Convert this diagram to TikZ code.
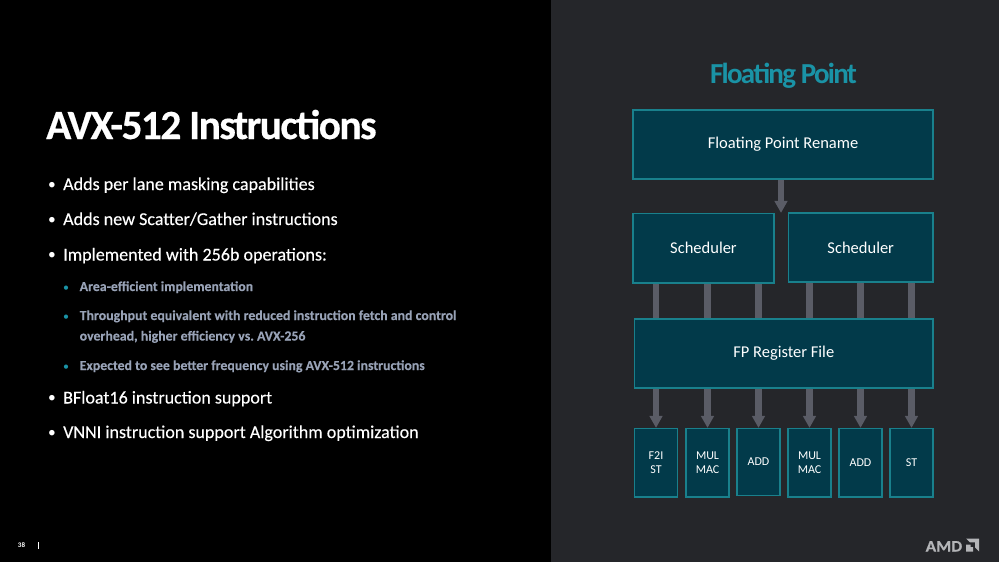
\documentclass[tikz,border=0pt]{standalone}
\usepackage{fontspec}
\setmainfont{Carlito}
\usetikzlibrary{arrows.meta}
\definecolor{panel}{HTML}{25262A}
\definecolor{boxfill}{HTML}{023A4A}
\definecolor{boxline}{HTML}{19808C}
\definecolor{barcol}{HTML}{5A5C66}
\definecolor{titleteal}{HTML}{1A93A6}
\definecolor{subtext}{HTML}{98A2B6}
\definecolor{logo}{HTML}{B4B5B8}
\frenchspacing
\tikzset{
  unitbox/.style={draw=boxline,fill=boxfill,line width=1.2pt,text=white,inner sep=0pt,align=center},
  bar/.style={draw=barcol,line width=6.5pt},
  arrowbar/.style={bar,-{Triangle[width=12.5pt,length=12pt]},shorten >=0pt},
  bigbullet/.style={anchor=base west,text=white,font=\fontsize{18.05}{18.05}\selectfont\addfontfeature{FakeBold=0.25},inner sep=0pt},
  subbullet/.style={anchor=base west,text=subtext,font=\fontsize{13.85}{13.85}\selectfont\bfseries\addfontfeature{FakeBold=0.2},inner sep=0pt},
  bigdot/.style={anchor=base,text=white,font=\fontsize{15.5}{15.5}\selectfont,inner sep=0pt},
  subdot/.style={anchor=base,text=titleteal,font=\fontsize{12}{12}\selectfont,inner sep=0pt},
}
\newcommand{\boxat}[7]{\node[unitbox,minimum width=#3-#2,minimum height=#5-#4,font=\fontsize{#7}{#7}\selectfont] (#1) at ({(#2+#3)/2},{(#4+#5)/2}) {#6};}
\begin{document}
\begin{tikzpicture}[x=1pt,y=-1pt]
\useasboundingbox (0,0) rectangle (999,562);
\fill[black] (0,0) rectangle (551,562);
\fill[panel] (551,0) rectangle (999,562);
% left text
\node[anchor=base west,text=white,font=\fontsize{41.5}{41.5}\selectfont\bfseries,inner sep=0pt] (title) at (46,139) {\addfontfeature{LetterSpace=-3.9,FakeBold=0.4}AVX-512 Instructions};
\node[bigdot] (d1) at (52,189) {•};
\node[bigbullet] (b1) at (63,190) {Adds per lane masking capabilities};
\node[bigdot] (d2) at (52,224) {•};
\node[bigbullet] (b2) at (63,225) {Adds new Scatter/Gather instructions};
\node[bigdot] (d3) at (52,259.5) {•};
\node[bigbullet] (b3) at (63,260.5) {Implemented with 256b operations:};
\node[subdot] (s1d) at (66,291) {•};
\node[subbullet] (s1) at (79.5,291) {Area-efficient implementation};
\node[subdot] (s2d) at (66,320) {•};
\node[subbullet] (s2) at (79.5,320) {Throughput equivalent with reduced instruction fetch and control};
\node[subbullet] (s2b) at (79.5,340.5) {overhead, higher efficiency vs. AVX-256};
\node[subdot] (s3d) at (66,370) {•};
\node[subbullet] (s3) at (79.5,370) {Expected to see better frequency using AVX-512 instructions};
\node[bigdot] (d4) at (52,402.5) {•};
\node[bigbullet] (b4) at (63,403.5) {BFloat16 instruction support};
\node[bigdot] (d5) at (52,437) {•};
\node[bigbullet] (b5) at (63,438) {VNNI instruction support Algorithm optimization};
\node[anchor=base,text=white,font=\fontsize{7}{7}\selectfont\bfseries,inner sep=0pt] (num) at (21.5,547) {38};
\fill[white] (37.6,541.5) rectangle (38.6,549);
% right title
\node[anchor=base,text=titleteal,font=\fontsize{29}{29}\selectfont\bfseries,inner sep=0pt] (fptitle) at (783.5,83) {\addfontfeature{LetterSpace=-6}Floating Point};
% boxes
\boxat{ren}{633}{933}{110}{179}{Floating Point Rename}{16.5}
\boxat{sa}{633}{774}{213.5}{283}{Scheduler}{16.5}
\boxat{sb}{788.5}{933}{213}{282}{Scheduler}{16.5}
\boxat{fp}{634.5}{933}{319}{388}{FP Register File}{16.5}
\boxat{u1}{634.5}{677.5}{428.5}{497}{F2I\\[2pt]ST}{12}
\boxat{u2}{686}{729}{428.5}{497}{MUL\\[2pt]MAC}{12}
\boxat{u3}{737}{780}{428.5}{495.5}{ADD}{12}
\boxat{u4}{788}{831}{428.5}{497}{MUL\\[2pt]MAC}{12}
\boxat{u5}{839}{882}{428.5}{497}{ADD}{12}
\boxat{u6}{890}{933}{428.5}{497}{ST}{12}
\coordinate (topx) at (781,0);
% connectors
\draw[arrowbar] (ren.south -| topx) -- (sa.north -| topx);
\foreach \u/\s in {u1/sa,u2/sa,u3/sa,u4/sb,u5/sb,u6/sb}{
  \draw[bar] (\s.south -| \u) -- (fp.north -| \u);
  \draw[arrowbar] (fp.south -| \u) -- (\u.north);
}
% logo
\node[anchor=base west,text=logo,font=\fontsize{16}{16}\selectfont\bfseries,inner sep=0pt] (amd) at (925.5,551.5) {\addfontfeature{FakeStretch=1.08,FakeBold=0.5}AMD};
\fill[logo] (966,538.5) -- (979,538.5) -- (979,551.5) -- (975.2,547.7) -- (975.2,542.3) -- (969.8,542.3) -- cycle;
\fill[logo] (966,544.5) -- (970.5,544.5) -- (970.5,547) -- (973,547) -- (973,551.5) -- (966,551.5) -- cycle;
\end{tikzpicture}
\end{document}
